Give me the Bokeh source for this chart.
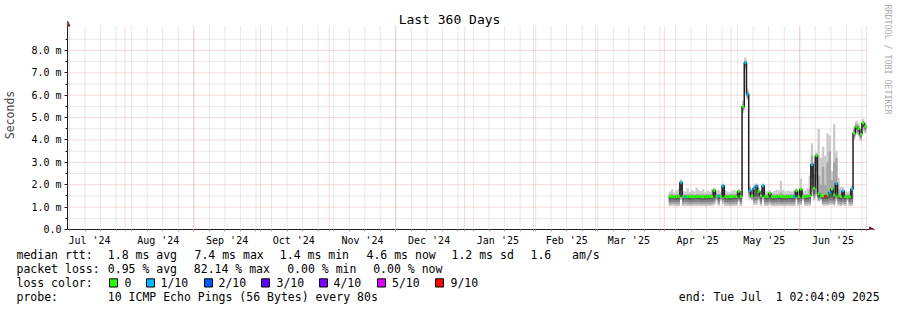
from datetime import datetime, timedelta
from bokeh.plotting import figure
from bokeh.layouts import column
from bokeh.models import FixedTicker, Range1d, Label, Arrow, NormalHead, ColumnDataSource
from bokeh.embed import file_html
from bokeh.resources import INLINE
from bokeh.core.properties import value

# ---------------- data (one value per day, 2025-04-03 .. 2025-06-30), milliseconds ----------------
median = [
    1.48, 1.47, 1.46, 1.47, 1.48, 2.10, 1.47, 1.46, 1.47, 1.48,
    1.47, 1.46, 1.47, 1.48, 1.47, 1.46, 1.47, 1.47, 1.48, 1.47,
    1.75, 1.48, 1.50, 1.47, 1.95, 1.47, 1.46, 1.47, 1.47, 1.48,
    1.47, 1.70, 1.48, 5.50, 7.45, 6.05, 1.75, 1.50, 1.85, 1.95,
    1.70, 1.50, 1.95, 1.48, 1.47, 1.62, 1.47, 1.46, 1.47, 1.48,
    1.47, 1.47, 1.46, 1.47, 1.48, 1.47, 1.48, 1.73, 1.47, 1.80,
    1.47, 1.47, 1.48, 1.50, 2.90, 1.85, 3.30, 1.60, 1.50, 1.50,
    1.48, 1.55, 1.65, 1.80, 1.55, 2.05, 1.50, 1.47, 1.72, 1.47,
    1.46, 1.47, 1.80, 4.30, 4.60, 4.50, 4.25, 4.75, 4.60]
loss = [
    0, 0, 0, 0, 0, 1, 0, 1, 0, 0,
    0, 0, 0, 0, 0, 0, 0, 0, 0, 0,
    0, 0, 1, 0, 1, 0, 0, 0, 0, 0,
    0, 0, 0, 0, 1, 1, 1, 0, 1, 1,
    0, 0, 1, 0, 0, 0, 0, 0, 0, 0,
    0, 0, 0, 0, 0, 0, 1, 0, 0, 0,
    0, 0, 0, 0, 1, 0, 0, 0, 0, 0,
    9, 0, 1, 0, 0, 1, 0, 0, 1, 0,
    0, 0, 1, 0, 0, 0, 0, 0, 0]
ping_1 = [
    1.05, 1.06, 1.05, 1.04, 1.05, 1.32, 1.05, 1.06, 1.05, 1.05,
    1.04, 1.05, 1.05, 1.06, 1.05, 1.05, 1.04, 1.05, 1.05, 1.06,
    1.10, 1.30, 1.06, 1.28, 1.12, 1.05, 1.05, 1.04, 1.05, 1.05,
    1.06, 1.25, 1.05, 5.20, 7.15, 5.80, 1.35, 1.30, 1.10, 1.10,
    1.30, 1.06, 1.30, 1.05, 1.05, 1.10, 1.05, 1.04, 1.05, 1.05,
    1.05, 1.05, 1.04, 1.05, 1.05, 1.05, 1.05, 1.30, 1.05, 1.08,
    1.30, 1.05, 1.05, 1.06, 1.50, 1.30, 1.50, 1.25, 1.30, 1.06,
    1.06, 1.06, 1.10, 1.10, 1.06, 1.30, 1.06, 1.05, 1.08, 1.05,
    1.28, 1.05, 1.06, 4.00, 4.25, 4.15, 3.95, 4.40, 4.30]
ping_2 = [
    1.13, 1.14, 1.13, 1.12, 1.13, 1.40, 1.13, 1.14, 1.13, 1.12,
    1.12, 1.13, 1.13, 1.14, 1.13, 1.13, 1.12, 1.13, 1.13, 1.14,
    1.18, 1.34, 1.14, 1.33, 1.22, 1.13, 1.13, 1.12, 1.13, 1.13,
    1.14, 1.30, 1.13, 5.30, 7.25, 5.88, 1.42, 1.35, 1.20, 1.20,
    1.35, 1.14, 1.38, 1.13, 1.13, 1.18, 1.13, 1.12, 1.13, 1.13,
    1.13, 1.13, 1.12, 1.13, 1.13, 1.13, 1.13, 1.36, 1.13, 1.16,
    1.35, 1.13, 1.13, 1.14, 1.70, 1.40, 1.80, 1.30, 1.34, 1.14,
    1.14, 1.14, 1.18, 1.18, 1.14, 1.40, 1.14, 1.13, 1.16, 1.13,
    1.33, 1.13, 1.14, 4.10, 4.35, 4.25, 4.05, 4.50, 4.40]
ping_3 = [
    1.23, 1.24, 1.23, 1.22, 1.24, 1.55, 1.23, 1.24, 1.23, 1.22,
    1.22, 1.23, 1.24, 1.24, 1.23, 1.23, 1.22, 1.23, 1.24, 1.24,
    1.28, 1.39, 1.24, 1.38, 1.32, 1.23, 1.23, 1.22, 1.23, 1.24,
    1.24, 1.35, 1.23, 5.38, 7.30, 5.95, 1.50, 1.40, 1.30, 1.32,
    1.42, 1.24, 1.45, 1.23, 1.23, 1.28, 1.23, 1.22, 1.23, 1.24,
    1.23, 1.23, 1.22, 1.23, 1.24, 1.23, 1.23, 1.42, 1.23, 1.26,
    1.40, 1.23, 1.24, 1.25, 2.00, 1.50, 2.20, 1.38, 1.38, 1.25,
    1.25, 1.25, 1.30, 1.30, 1.25, 1.50, 1.25, 1.23, 1.26, 1.23,
    1.38, 1.23, 1.25, 4.18, 4.45, 4.35, 4.12, 4.60, 4.48]
ping_4 = [
    1.34, 1.35, 1.33, 1.33, 1.35, 1.75, 1.34, 1.35, 1.34, 1.33,
    1.34, 1.34, 1.35, 1.35, 1.34, 1.33, 1.33, 1.34, 1.35, 1.35,
    1.40, 1.43, 1.35, 1.42, 1.45, 1.34, 1.34, 1.33, 1.34, 1.35,
    1.35, 1.40, 1.34, 5.45, 7.38, 6.00, 1.60, 1.45, 1.45, 1.50,
    1.50, 1.35, 1.55, 1.34, 1.34, 1.38, 1.34, 1.33, 1.34, 1.35,
    1.34, 1.34, 1.33, 1.34, 1.35, 1.34, 1.34, 1.50, 1.34, 1.40,
    1.44, 1.34, 1.35, 1.36, 2.30, 1.60, 2.60, 1.45, 1.42, 1.36,
    1.36, 1.36, 1.42, 1.45, 1.36, 1.65, 1.36, 1.34, 1.38, 1.34,
    1.42, 1.34, 1.36, 4.24, 4.52, 4.42, 4.18, 4.68, 4.55]
ping_9 = [
    1.56, 1.57, 1.55, 1.56, 1.58, 2.15, 1.57, 1.56, 1.58, 1.56,
    1.57, 1.55, 1.58, 1.57, 1.56, 1.57, 1.56, 1.57, 1.58, 1.60,
    1.70, 1.56, 1.58, 1.55, 1.95, 1.57, 1.56, 1.56, 1.57, 1.58,
    1.57, 1.72, 1.57, 5.60, 7.55, 6.15, 1.85, 1.58, 1.85, 1.95,
    1.72, 1.58, 1.95, 1.57, 1.56, 1.65, 1.57, 1.56, 1.57, 1.58,
    1.65, 1.57, 1.56, 1.57, 1.58, 1.57, 1.58, 1.75, 1.57, 1.85,
    1.56, 1.57, 1.60, 1.80, 3.30, 2.50, 3.35, 2.40, 2.00, 2.80,
    2.00, 3.00, 3.50, 2.20, 3.00, 3.20, 1.80, 1.60, 1.75, 1.57,
    1.56, 1.57, 1.85, 4.45, 4.72, 4.62, 4.40, 4.85, 4.70]
ping_10 = [
    1.70, 1.80, 1.66, 1.74, 1.82, 2.25, 1.72, 1.70, 1.84, 1.68,
    1.78, 1.70, 1.86, 1.76, 1.72, 1.80, 1.68, 1.74, 1.70, 1.82,
    1.85, 1.72, 1.76, 1.68, 2.05, 1.74, 1.70, 1.66, 1.72, 1.78,
    1.70, 1.80, 1.72, 5.75, 7.70, 6.30, 1.95, 1.75, 1.95, 2.05,
    1.85, 1.75, 2.05, 1.72, 1.70, 1.76, 1.68, 1.72, 1.78, 1.74,
    2.18, 1.76, 1.70, 1.74, 1.72, 1.70, 1.74, 1.85, 1.72, 2.28,
    1.70, 1.74, 1.85, 2.40, 3.85, 3.00, 3.45, 4.50, 3.20, 3.70,
    3.30, 4.30, 4.20, 2.60, 4.70, 3.50, 2.30, 1.90, 1.90, 1.70,
    1.68, 1.72, 1.95, 4.55, 4.85, 4.75, 4.50, 4.95, 4.80]

y_ticks = [0, 1, 2, 3, 4, 5, 6, 7, 8]
y_tick_labels = ["0.0", "1.0 m", "2.0 m", "3.0 m", "4.0 m", "5.0 m", "6.0 m", "7.0 m", "8.0 m"]
loss_levels = [0, 1, 2, 3, 4, 5, 9]
loss_labels = ["0", "1/10", "2/10", "3/10", "4/10", "5/10", "9/10"]
loss_palette = ["#26ff00", "#00b8ff", "#0059ff", "#5e00ff", "#7e00ff", "#dd00ff", "#ff0000"]

title_text = "Last 360 Days"
credit_text = "RRDTOOL / TOBI OETIKER"
stats_rtt = ["median rtt:", "1.8 ms avg", "7.4 ms max", "1.4 ms min", "4.6 ms now", "1.2 ms sd", "1.6   am/s"]
stats_loss = ["packet loss:", "0.95 % avg", "82.14 % max", "0.00 % min", "0.00 % now"]
probe_text = ["probe:", "10 ICMP Echo Pings (56 Bytes) every 80s", "end: Tue Jul  1 02:04:09 2025"]

END = datetime(2025, 7, 1, 2, 4, 9)
START = END - timedelta(days=360)
FIRST_DAY = datetime(2025, 4, 3)

# ---------------- helpers ----------------
EPOCH = datetime(1970, 1, 1)
DAY_MS = 86400000.0
FONT = "DejaVu Sans Mono"


def to_ms(d):
    return (d - EPOCH).total_seconds() * 1000.0


def keep_spaces(s):
    # SVG collapses runs of blanks: keep them with non-breaking spaces
    out = s
    while "  " in out:
        out = out.replace("  ", "\u00a0\u00a0")
    return out.replace("\u00a0 ", "\u00a0\u00a0")


def loss_color(n):
    for lvl, col in zip(loss_levels, loss_palette):
        if n <= lvl:
            return col
    return loss_palette[-1]


xs = [to_ms(FIRST_DAY + timedelta(days=i, hours=12)) for i in range(len(median))]
half = 0.06
src = ColumnDataSource(dict(
    x=xs, med=median, p1=ping_1, p2=ping_2, p3=ping_3, p4=ping_4, p9=ping_9, p10=ping_10,
    mlo=[m - half for m in median], mhi=[m + half for m in median],
    col=[loss_color(n) for n in loss],
))

# month starts, weekly (Sunday) lines, and month label positions
month_starts, label_pos, label_txt = [], [], []
d = datetime(START.year, START.month, 1)
while d <= END:
    if d >= START:
        month_starts.append(to_ms(d))
    lp = d + timedelta(days=15)
    if START <= lp <= END:
        label_pos.append(to_ms(lp))
        label_txt.append(d.strftime("%b '%y"))
    d = datetime(d.year + (d.month // 12), d.month % 12 + 1, 1)

weeks = []
w = datetime(START.year, START.month, START.day) + timedelta(days=1)
while w.weekday() != 6:
    w += timedelta(days=1)
while w <= END:
    weeks.append(to_ms(w))
    w += timedelta(days=7)
y_minor = [t + 0.5 for t in y_ticks]

# ---------------- geometry ----------------
X0, X1 = to_ms(START), to_ms(END)
PLOT_W = 800.0                       # px covered by the 360 days
PX_MS = (X1 - X0) / PLOT_W           # ms of time per pixel
PX_PER_UNIT = 201.0 / 8.98           # px per millisecond of rtt
FRAME_W, FRAME_H = 897 - 66, 248 - 19
Y_TOP = 8.98                         # top of the graph area
GRID_TOP = Y_TOP + 2.5 / PX_PER_UNIT

p = figure(width=897, height=248, x_axis_type="datetime",
           x_range=Range1d(X0, X0 + FRAME_W * PX_MS),
           y_range=Range1d(0, FRAME_H / PX_PER_UNIT),
           output_backend="svg", toolbar_location=None,
           min_border_left=66, min_border_right=0, min_border_top=0, min_border_bottom=19)
p.background_fill_color = "white"
p.border_fill_color = "white"
p.outline_line_color = None
p.grid.visible = False
if "frame_align" in type(p).properties():
    p.frame_align = False

# grid lines (drawn from the tick lists)
RED, GREY = "#de4f4f", "#8f8f8f"
p.segment(x0=weeks, x1=weeks, y0=[0] * len(weeks), y1=[GRID_TOP] * len(weeks),
          line_color=GREY, line_alpha=0.4, line_dash="1 1", line_width=1)
p.segment(x0=[X0] * len(y_minor), x1=[X1] * len(y_minor), y0=y_minor, y1=y_minor,
          line_color=GREY, line_alpha=0.4, line_dash="1 1", line_width=1)
p.segment(x0=month_starts, x1=month_starts, y0=[0] * len(month_starts), y1=[GRID_TOP] * len(month_starts),
          line_color=RED, line_alpha=0.42, line_dash="1 1", line_width=1)
p.segment(x0=[X0] * len(y_ticks[1:]), x1=[X1] * len(y_ticks[1:]), y0=y_ticks[1:], y1=y_ticks[1:],
          line_color=RED, line_alpha=0.42, line_dash="1 1", line_width=1)

# smoke
W = DAY_MS * 1.04
p.vbar(x="x", width=W, bottom="p1", top="p10", source=src, fill_color="#cacaca", line_color=None)
p.vbar(x="x", width=W, bottom="p2", top="p9", source=src, fill_color="#a4a4a4", line_color=None)
p.vbar(x="x", width=W, bottom="p3", top="med", source=src, fill_color="#7e7e7e", line_color=None)
p.vbar(x="x", width=W, bottom="p4", top="med", source=src, fill_color="#585858", line_color=None)
# median and loss colour
p.step(x="x", y="med", mode="center", source=src, line_color="#202020", line_width=1.5)
p.vbar(x="x", width=DAY_MS, bottom="mlo", top="mhi", source=src, fill_color="col", line_color=None)

# axes
ax = p.xaxis[0]
ax.ticker = FixedTicker(ticks=label_pos, minor_ticks=sorted(weeks + month_starts))
ax.major_label_overrides = {t: s for t, s in zip(label_pos, label_txt)}
ax.bounds = (X0 - 6 * PX_MS, X1 + 3 * PX_MS)
ax.major_tick_out = 0
ax.major_tick_in = 0
ax.minor_tick_out = 2
ax.minor_tick_in = 0
ax.minor_tick_line_color = "#d09a9a"
ax.major_label_standoff = 3
ax.axis_line_color = "#1f1f1f"
ax.major_label_text_font = FONT
ax.major_label_text_font_size = "10px"
ax.major_label_text_color = "black"

ay = p.yaxis[0]
ay.ticker = FixedTicker(ticks=y_ticks, minor_ticks=y_minor)
ay.major_label_overrides = {t: s for t, s in zip(y_ticks, y_tick_labels)}
ay.bounds = (0, Y_TOP + 3 / PX_PER_UNIT)
ay.major_tick_out = 3
ay.major_tick_in = 0
ay.minor_tick_out = 2
ay.minor_tick_in = 0
ay.major_label_standoff = 3
ay.axis_line_color = "#1f1f1f"
ay.major_tick_line_color = "#1f1f1f"
ay.minor_tick_line_color = "#1f1f1f"
ay.major_label_text_font = FONT
ay.major_label_text_font_size = "10px"
ay.major_label_text_color = "black"
ay.axis_label = "Seconds"
ay.axis_label_text_font = FONT
ay.axis_label_text_font_size = "11.5px"
ay.axis_label_text_font_style = "normal"
ay.axis_label_standoff = 11

# axis arrow heads
ARROW = "#801f1f"
p.add_layout(Arrow(x_start=X1 + 2 * PX_MS, y_start=0, x_end=X1 + 8 * PX_MS, y_end=0,
                   line_color=ARROW, line_width=1,
                   end=NormalHead(size=5, fill_color=ARROW, line_color=ARROW)))
p.add_layout(Arrow(x_start=X0, y_start=Y_TOP + 2 / PX_PER_UNIT, x_end=X0, y_end=Y_TOP + 7.5 / PX_PER_UNIT,
                   line_color=ARROW, line_width=1,
                   end=NormalHead(size=5, fill_color=ARROW, line_color=ARROW)))

# title and watermark (screen units, from the frame's bottom-left corner)
p.add_layout(Label(x=382, y=210, x_units="screen", y_units="screen", text=title_text,
                   text_align="center", text_baseline="middle", text_font=FONT,
                   text_font_size="13px", text_color="black"))
p.add_layout(Label(x=820, y=225, x_units="screen", y_units="screen", text=credit_text,
                   angle=-90, angle_units="deg", text_align="left", text_baseline="middle",
                   text_font=FONT, text_font_size="8.3px", text_color="#acacac"))

# ---------------- legend panel (pixel coordinates) ----------------
lg = figure(frame_width=897, frame_height=62, x_range=Range1d(0, 897), y_range=Range1d(310, 248),
            x_axis_location=None, y_axis_location=None, output_backend="svg",
            toolbar_location=None, min_border=0)
lg.grid.visible = False
lg.outline_line_color = None
lg.background_fill_color = "white"
lg.border_fill_color = "white"
if "frame_align" in type(lg).properties():
    lg.frame_align = False

row1_x = [16, 107.3, 194, 279.3, 366, 451, 530]
row2_x = [16, 107.3, 193.3, 286.7, 372.7]
row4_x = [16, 107.3, 678.3]
tx = row1_x + row2_x + [16] + row4_x
ty = [254.3] * len(row1_x) + [268.3] * len(row2_x) + [282.3] + [296.2] * len(row4_x)
tt = [keep_spaces(s) for s in stats_rtt + stats_loss + ["loss color:"] + probe_text]
lg.text(x=tx, y=ty, text=tt, text_font=value(FONT), text_font_size="11.5px",
        text_baseline="middle", text_align="left", text_color="black")

sw_x = [109, 146, 204, 261, 319, 377, 435]
lab_x = [124, 160, 218, 276, 333, 391.5, 450]
lg.quad(left=sw_x, right=[s + 8 for s in sw_x], top=[278.3] * len(sw_x), bottom=[286.5] * len(sw_x),
        fill_color=loss_palette, line_color="black", line_width=1)
lg.text(x=lab_x, y=[282.3] * len(lab_x), text=loss_labels, text_font=value(FONT),
        text_font_size="11.5px", text_baseline="middle", text_align="left", text_color="black")

layout = column(p, lg, spacing=0)
open("out.html", "w").write(file_html(layout, INLINE))
